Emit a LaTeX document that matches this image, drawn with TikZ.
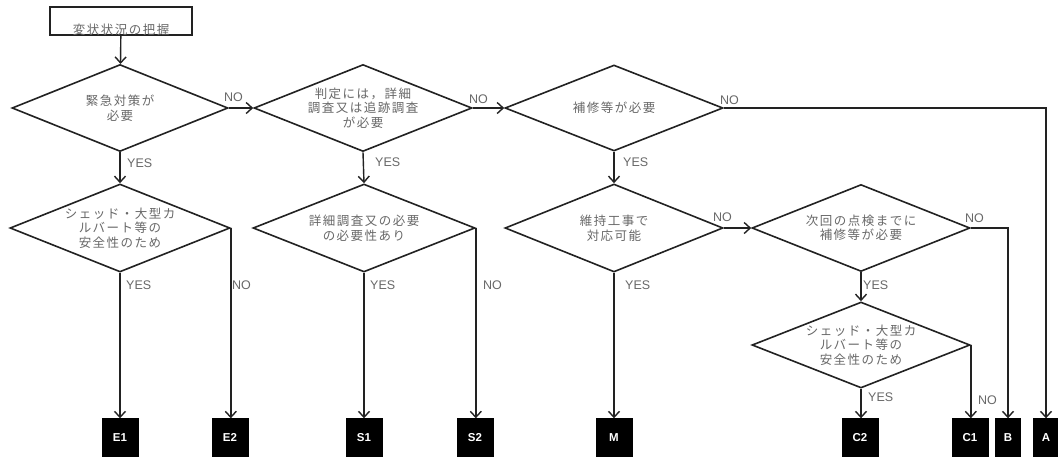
\documentclass[tikz,border=0pt]{standalone}
\usepackage{fontspec}
\setmainfont{Liberation Sans}
\newfontfamily\jp[LetterSpace=12]{Noto Sans CJK JP}
\usetikzlibrary{shapes.geometric,arrows.meta}
\definecolor{ln}{HTML}{222222}
\definecolor{tx}{HTML}{686868}
\begin{document}
\begin{tikzpicture}[x=1pt,y=-1pt,
  dia/.style={diamond, draw=ln, line width=1.6pt, inner sep=0pt},
  dtext/.style={inner sep=0pt, text=tx, align=center, font=\jp\fontsize{12.5}{14.5}\selectfont},
  term/.style={fill=black, draw=black, minimum width=36pt, minimum height=38pt, inner sep=0pt,
    text=white, font=\bfseries\fontsize{11.5}{12}\selectfont},
  narrow/.style={minimum width=25pt},
  arr/.style={draw=ln, line width=1.4pt, -{Straight Barb[length=6pt,width=11pt,line width=1.4pt]}},
  lab/.style={anchor=west, inner sep=0pt, text=tx, font=\fontsize{12.5}{13}\selectfont}]
\useasboundingbox (0,0) rectangle (1058,459);
\fill[white] (0,0) rectangle (1058,459);

% start box
\node[draw=ln, line width=2.2pt, minimum width=142pt, minimum height=28pt, inner ysep=1pt,
      text height=26pt, text depth=0pt, text=tx, font=\jp\fontsize{12.5}{14}\selectfont]
      (start) at (121,21) {変状状況の把握};

% diamonds
\node[dia, minimum width=216pt, minimum height=87pt, label={[dtext]center:{緊急対策が\\必要}}] (d1) at (120,108) {};
\node[dia, minimum width=218pt, minimum height=87pt, label={[dtext]center:{判定には，詳細\\調査又は追跡調査\\が必要}}] (d2) at (363,108) {};
\node[dia, minimum width=218pt, minimum height=86pt, label={[dtext]center:{補修等が必要}}] (d3) at (614,108) {};
\node[dia, minimum width=220pt, minimum height=88pt, label={[dtext]center:{シェッド・大型カ\\ルバート等の\\安全性のため}}] (d4) at (120,228) {};
\node[dia, minimum width=222pt, minimum height=88pt, label={[dtext]center:{詳細調査又の必要\\の必要性あり}}] (d5) at (364,228) {};
\node[dia, minimum width=218pt, minimum height=88pt, label={[dtext]center:{維持工事で\\対応可能}}] (d6) at (614,228) {};
\node[dia, minimum width=218pt, minimum height=87pt, label={[dtext]center:{次回の点検までに\\補修等が必要}}] (d7) at (861,228) {};
\node[dia, minimum width=218pt, minimum height=86pt, label={[dtext]center:{シェッド・大型カ\\ルバート等の\\安全性のため}}] (d8) at (861,345) {};

% terminals
\node[term] (E1) at (120,437.5) {E1};
\node[term] (E2) at (230,437.5) {E2};
\node[term] (S1) at (364,437.5) {S1};
\node[term] (S2) at (475,437.5) {S2};
\node[term] (M)  at (614,437.5) {M};
\node[term] (C2) at (860,437.5) {C2};
\node[term] (C1) at (970,437.5) {C1};
\node[term, narrow] (B) at (1008,437.5) {B};
\node[term, narrow] (A) at (1046,437.5) {A};

% connectors
\draw[arr] (start) -- (d1);
\draw[arr] (d1.east) -- (d2.west);
\draw[arr] (d2.east) -- (d3.west);
\draw[arr] (d3.east) -- (d3.east -| A.north) -- (A.north);
\draw[arr] (d1.south) -- (d4.north);
\draw[arr] (d2.south) -- (d5.north);
\draw[arr] (d3.south) -- (d6.north);
\draw[arr] (d4.south) -- (E1.north);
\draw[arr] (d4.east) -- (d4.east |- E2.north);
\draw[arr] (d5.south) -- (S1.north);
\draw[arr] (d5.east) -- (d5.east |- S2.north);
\draw[arr] (d6.south) -- (M.north);
\draw[arr] (d6.east) -- (d7.west);
\draw[arr] (d7.east) -- (d7.east -| B.north) -- (B.north);
\draw[arr] (d7.south) -- (d8.north);
\draw[arr] (d8.south) -- (d8.south |- C2.north);
\draw[arr] (d8.east) -- (d8.east |- C1.north);

% labels
\node[lab] (l1) at (224,97) {NO};
\node[lab] (l2) at (469,99) {NO};
\node[lab] (l3) at (720,100) {NO};
\node[lab] (l4) at (127,163) {YES};
\node[lab] (l5) at (375,162) {YES};
\node[lab] (l6) at (623,162) {YES};
\node[lab] (l7) at (126,285) {YES};
\node[lab] (l8) at (232,285) {NO};
\node[lab] (l9) at (370,285) {YES};
\node[lab] (l10) at (483,285) {NO};
\node[lab] (l11) at (625,285) {YES};
\node[lab] (l12) at (713,217) {NO};
\node[lab] (l13) at (965,218) {NO};
\node[lab] (l14) at (863,285) {YES};
\node[lab] (l15) at (868,397) {YES};
\node[lab] (l16) at (978,400) {NO};
\end{tikzpicture}
\end{document}
